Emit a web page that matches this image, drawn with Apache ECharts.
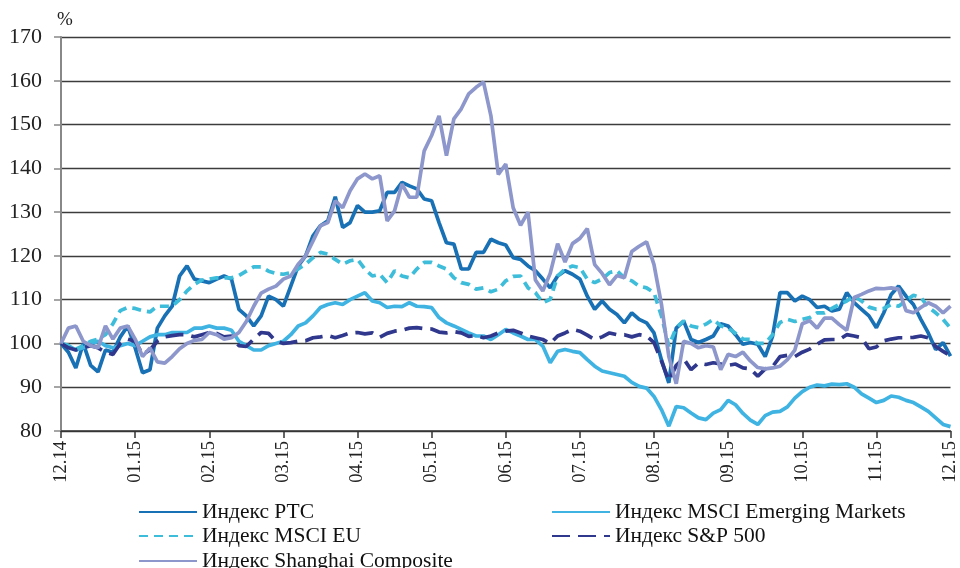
<!DOCTYPE html>
<html>
<head>
<meta charset="utf-8">
<script src="https://cdn.jsdelivr.net/npm/echarts/dist/echarts.min.js"></script>
<style>html,body{margin:0;padding:0;background:#fff}#c{width:960px;height:568px}</style>
</head>
<body>
<div id="c"></div>
<script>
const monthLabels = ['12.14','01.15','02.15','03.15','04.15','05.15','06.15','07.15','08.15','09.15','10.15','11.15','12.15'];
const stepsPerMonth = 10;

const seriesNames = ['Индекс РТС','Индекс MSCI Emerging Markets','Индекс MSCI EU','Индекс S&P 500','Индекс Shanghai Composite'];

const rts = [100,98,94.4,100,95,93.5,98.5,98,101.5,104,99,93.3,94,103.5,106.3,108.5,115.4,117.7,114.7,114.3,
113.9,114.7,115.4,114.7,107.8,106.3,104,106.3,110.8,110,108.5,113.1,117.7,120,124.6,126.9,128,133.5,126.5,127.6,
131.5,130,130,130.3,134.5,134.5,136.8,136,135.3,133,132.6,127.6,123,122.7,117,117,120.8,120.8,123.8,123,
122.5,119.6,119.2,117.7,116.6,114.7,112.7,115.4,116.6,115.8,114.7,110.8,107.8,109.7,107.8,106.6,104.7,107,105.5,104.7,
102.4,96.3,91,103.5,105.1,100.9,100.2,100.9,101.7,104.5,104,102,99.8,100.2,99.8,97,101.7,111.6,111.6,109.7,
110.8,110,108.2,108.5,107.4,107.8,111.6,109.3,107.8,106.3,103.6,107,111.2,113.1,110.8,108.9,105.5,102.4,98.6,100.2,97.1];

const msciEm = [100,99.5,98.5,99,99.8,100.5,99.5,99,99.5,100,99.5,100.5,101.5,102,102,102.5,102.5,102.5,103.5,103.5,
104,103.5,103.5,103,100.5,99.5,98.5,98.5,99.5,100,100.5,102,104,104.7,106.3,108.2,108.9,109.3,108.9,110,
110.8,111.6,109.7,109.3,108.2,108.5,108.4,109.3,108.5,108.4,108.2,105.9,104.7,104,103.2,102.4,101.7,101.7,100.9,102,
103.2,102.4,101.7,100.9,100.9,99.4,95.6,98.2,98.6,98.2,97.9,96.3,94.8,93.7,93.3,92.9,92.5,91.1,90.2,89.8,
87.9,84.9,81.1,85.6,85.3,84.1,83,82.6,84.1,84.9,87,86,84,82.5,81.5,83.5,84.3,84.5,85.5,87.5,
89,90,90.5,90.3,90.7,90.6,90.8,90,88.5,87.5,86.5,87,88,87.7,87,86.5,85.5,84.5,83,81.5,81];

const msciEu = [100,99.5,98.7,99.5,100.5,101,102,104.5,107.5,108.2,108,107.5,107.2,108.5,108.5,108.5,110,112,113.5,114.5,
114.7,115,115,115,115.5,116.5,117.5,117.5,116.5,116,115.8,116.2,117,118.1,119.6,120.8,120.4,119.2,118.1,118.9,
119.2,117,115.4,115.8,113.9,116.6,115.4,115,117,118.5,118.5,117.7,117,115,113.9,113.5,112.4,112.7,111.8,112.4,
114.3,115.3,115.4,112.7,111.6,109.3,110.1,115.4,117,117.7,117.3,114.7,113.9,114.7,116.2,116.6,115,114.3,113.1,112.7,
111.6,106.3,99.4,103.6,105.1,104,103.6,104.4,105.5,104,103.5,102.3,101,100.9,100,100,102,104.8,105.5,105,
105.5,105.9,107,107,108,108.9,109.7,110.8,109.7,108.3,107.8,108,108.9,108.5,109.8,111,110.5,108.3,107,105.5,103.5];

const sp500 = [100,99,98.5,99,99.5,99,98,97.5,100,101,100.5,97.5,98.5,100.5,101.5,101.8,102,102,101.5,102,
102.5,102.3,101.5,101.7,99.5,99.3,101,102.5,102.3,100.5,100,100.2,100.5,100.6,101.3,101.5,101.8,101.3,101.8,102.4,
102.5,102.2,102.4,101.4,102.3,102.8,103,103.5,103.6,103.4,103.3,102.6,102.4,102.7,102.4,101.6,101.8,101.3,101.7,102.4,
102.8,103,102.4,101.7,101.3,100.9,100,101.7,102.4,103.2,102.8,101.9,100.9,101.5,102.4,102,102,101.5,102,101.7,
100.2,96,91.5,95,96.5,94,95.5,95.2,95.6,95.3,95,95.3,94.4,94.2,92.5,94.2,94.7,97,97.3,97,
98,98.7,99.8,100.8,100.9,100.9,102,101.7,101.3,98.8,99.2,100.6,101,101.3,101.3,101.4,101.7,101.3,99.3,98.2,97.2];

const shanghai = [100,103.5,104,100.5,99.5,99,104,101,103.5,104,101,97,99,95.8,95.5,97,98.8,100,100.7,100.9,
102.5,102,101,101.3,102.5,105,108.5,111.5,112.4,113.1,114.7,115.4,118.1,120,123.4,126.9,127.6,132.6,131,134.9,
137.6,138.7,137.6,138.3,128,130.3,136.4,133.4,133.4,144,147.5,152,142.9,151.3,153.6,157,158.5,159.7,152,138.6,
141,131,127,130,114.5,112,116,122.8,118.6,122.8,124,126.2,118,116,113.4,115.5,115,121,122.2,123.2,
118,109,97,90.8,100.5,100,99,99.5,99.2,94,97.5,97,98,96,94.5,94.2,94.4,94.8,96.3,98.5,
104.5,105.2,103.5,105.8,105.8,104.3,103,110.5,111.2,112,112.6,112.5,112.7,112.4,107.5,107,108.2,109.3,108.5,107,108.5];

const colors = ['#1870b5','#3fb3e2','#3dbdd9','#2f388c','#8d97cb'];
const dashes = ['solid','solid',[9,6],[18,8],'solid'];
const values = [rts, msciEm, msciEu, sp500, shanghai];

const categories = [];
for (let i = 0; i < rts.length; i++) {
  const m = Math.floor(i / stepsPerMonth);
  categories.push(i % stepsPerMonth === 0 ? monthLabels[m] : monthLabels[m] + '#' + (i % stepsPerMonth));
}

const serif = 'Liberation Serif';
// legend slots: [series index, left, top]
const legendSlots = [[0,138,501],[1,551,501],[2,138,525],[3,551,525],[4,138,550]];

const chart = echarts.init(document.getElementById('c'), null, {renderer: 'canvas'});
chart.setOption({
  animation: false,
  backgroundColor: '#fff',
  title: {text: '%', left: 52, top: 6, textStyle: {fontFamily: serif, fontSize: 19, fontWeight: 'normal', color: '#222'}},
  grid: {left: 61, top: 37, right: 1, bottom: 137, containLabel: false},
  legend: legendSlots.map(([k, l, t]) => ({
    data: [seriesNames[k]], orient: 'horizontal', left: l, top: t, padding: 0,
    itemWidth: 58, itemHeight: 14, itemGap: 0,
    itemStyle: {opacity: 0},
    textStyle: {fontFamily: serif, fontSize: 21.5, color: '#111', lineHeight: 20}
  })),
  xAxis: {
    type: 'category', boundaryGap: false, data: categories,
    axisLine: {lineStyle: {color: '#333', width: 1.5}},
    axisTick: {interval: stepsPerMonth - 1, length: 7, lineStyle: {color: '#333', width: 1.5}},
    axisLabel: {interval: stepsPerMonth - 1, rotate: 90, margin: 10, fontFamily: serif, fontSize: 18.5, color: '#222',
      formatter: v => v.split('#')[0]},
    splitLine: {show: false}
  },
  yAxis: {
    type: 'value', min: 80, max: 170, interval: 10,
    axisLine: {show: true, lineStyle: {color: '#888', width: 2}},
    axisTick: {show: true, length: 7, lineStyle: {color: '#888', width: 1.5}},
    axisLabel: {margin: 19, fontFamily: serif, fontSize: 22, color: '#222'},
    splitLine: {lineStyle: {color: '#3c3c3c', width: 1.3}}
  },
  series: values.map((d, k) => ({
    name: seriesNames[k], type: 'line', data: d, symbol: 'none', smooth: false,
    lineStyle: {color: colors[k], width: 3.7, type: dashes[k]},
    itemStyle: {color: colors[k]}
  }))
});
</script>
</body>
</html>
